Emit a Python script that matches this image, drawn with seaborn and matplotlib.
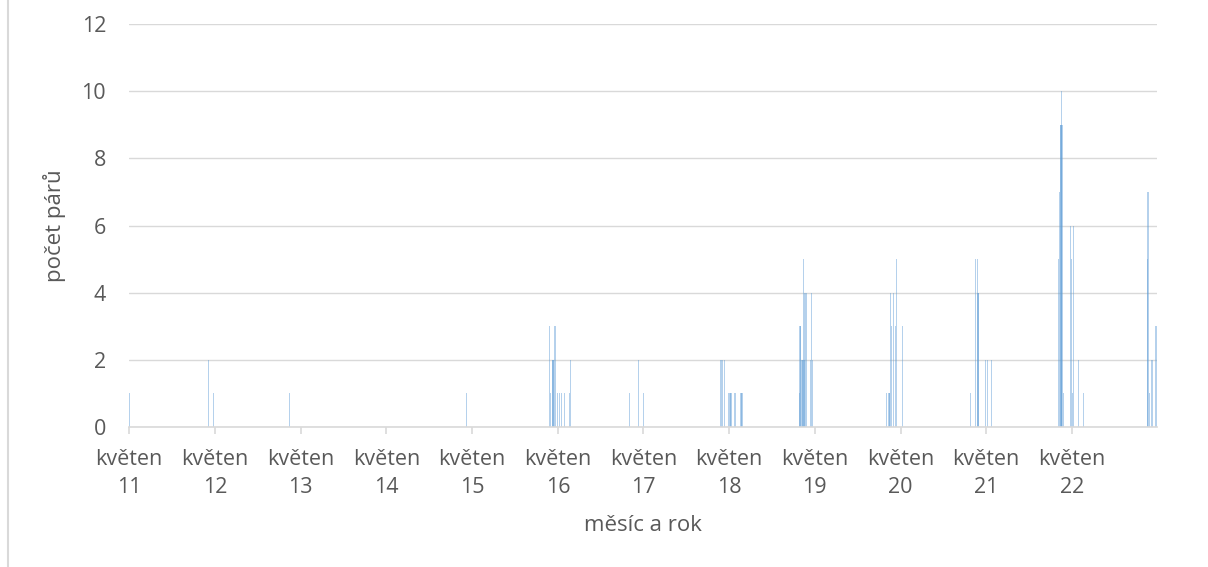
import matplotlib
matplotlib.use("Agg")
import matplotlib.pyplot as plt
import seaborn as sns
import pandas as pd
import numpy as np

# ---- data ----
dates = [
    "2011-05-01", "2012-04-03", "2012-04-24", "2013-03-14", "2015-04-07",
    "2016-03-26", "2016-03-30", "2016-04-08", "2016-04-10", "2016-04-12",
    "2016-04-18", "2016-04-20", "2016-04-28", "2016-05-07", "2016-05-16",
    "2016-05-31", "2016-06-20", "2016-06-24",
    "2017-03-02", "2017-04-09", "2017-05-01",
    "2018-03-25", "2018-04-01", "2018-04-11", "2018-04-30", "2018-05-05",
    "2018-05-08", "2018-05-11", "2018-05-23", "2018-05-30", "2018-06-21",
    "2018-06-25",
    "2019-02-24", "2019-02-27", "2019-03-02", "2019-03-08", "2019-03-11",
    "2019-03-13", "2019-03-16", "2019-03-20", "2019-03-23", "2019-03-26",
    "2019-04-12", "2019-04-16", "2019-04-20",
    "2020-03-01", "2020-03-09", "2020-03-13", "2020-03-16", "2020-03-18",
    "2020-03-22", "2020-03-31", "2020-04-09", "2020-04-13", "2020-05-09",
    "2021-02-22", "2021-03-16", "2021-03-24", "2021-03-27", "2021-03-30",
    "2021-04-28", "2021-05-07", "2021-05-23",
    "2022-03-04", "2022-03-11", "2022-03-13", "2022-03-16", "2022-03-17",
    "2022-03-19", "2022-03-22", "2022-03-26", "2022-04-24", "2022-04-28",
    "2022-05-04", "2022-05-09", "2022-05-28", "2022-06-19",
    "2023-03-21", "2023-03-22", "2023-03-27", "2023-04-08", "2023-04-25",
]
counts = [
    1, 2, 1, 1, 1,
    3, 1, 2, 2, 2,
    3, 3, 1, 1, 1,
    1, 1, 2,
    1, 2, 1,
    2, 2, 2, 1, 1,
    1, 1, 1, 1, 1,
    1,
    1, 3, 3, 2, 2,
    5, 2, 4, 4, 4,
    2, 4, 2,
    1, 1, 1, 1, 4,
    3, 4, 3, 5, 3,
    1, 5, 5, 4, 4,
    2, 2, 2,
    5, 7, 9, 9, 10,
    9, 9, 1, 6, 5,
    1, 6, 2, 1,
    5, 7, 1, 2, 3,
]
tick_years = list(range(2011, 2023))
tick_labels = [f"květen\n{y % 100:02d}" for y in tick_years]
y_ticks = [0, 2, 4, 6, 8, 10, 12]
axis_start = "2011-05-01"
axis_end = "2023-04-29"

# ---- build frame ----
origin = pd.Timestamp(axis_start)
df = pd.DataFrame({"date": pd.to_datetime(dates), "count": counts})
df["day"] = (df["date"] - origin).dt.days

tick_pos = [(pd.Timestamp(f"{y}-05-01") - origin).days for y in tick_years]
x_end = (pd.Timestamp(axis_end) - origin).days

sns.set_theme(style="white")
plt.rcParams["font.family"] = ["Open Sans", "DejaVu Sans"]

fig = plt.figure(figsize=(12.08, 5.67), dpi=100)
ax = fig.add_axes([129 / 1208, 1 - 427 / 567, (1157 - 129) / 1208, (427 - 24) / 567])

sns.barplot(data=df, x="day", y="count", native_scale=True, width=5.0,
            color="#5B9BD5", saturation=1, edgecolor="none", linewidth=0,
            alpha=0.45, ax=ax, zorder=3, errorbar=None)

ax.set_xlim(-1, x_end)
ax.set_ylim(0, 12)
ax.set_yticks(y_ticks)
ax.set_yticklabels([str(v) for v in y_ticks])
ax.set_xticks(tick_pos)
ax.set_xticklabels(tick_labels, linespacing=1.45)

ax.grid(axis="y", color="#D9D9D9", linewidth=1.0, zorder=0)
ax.grid(axis="x", visible=False)
for s in ["top", "right", "left"]:
    ax.spines[s].set_visible(False)
ax.spines["bottom"].set_color("#D9D9D9")
ax.spines["bottom"].set_linewidth(1.2)
ax.spines["bottom"].set_zorder(4)

ax.tick_params(axis="x", length=5, width=1.2, color="#D9D9D9", direction="out",
               labelsize=15.5, labelcolor="#595959", pad=11, bottom=True)
ax.tick_params(axis="y", length=0, labelsize=15.5, labelcolor="#595959", pad=16.5)

ax.set_xlabel("měsíc a rok", fontsize=16, color="#595959", labelpad=12)
ax.set_ylabel("počet párů", fontsize=16, color="#595959", labelpad=11)

# chart-area border (left edge visible)
fig.add_artist(plt.Line2D([8 / 1208, 8 / 1208], [0, 1], transform=fig.transFigure,
                          color="#D9D9D9", linewidth=1.5))

fig.savefig("out.png", dpi=100, facecolor="white")
